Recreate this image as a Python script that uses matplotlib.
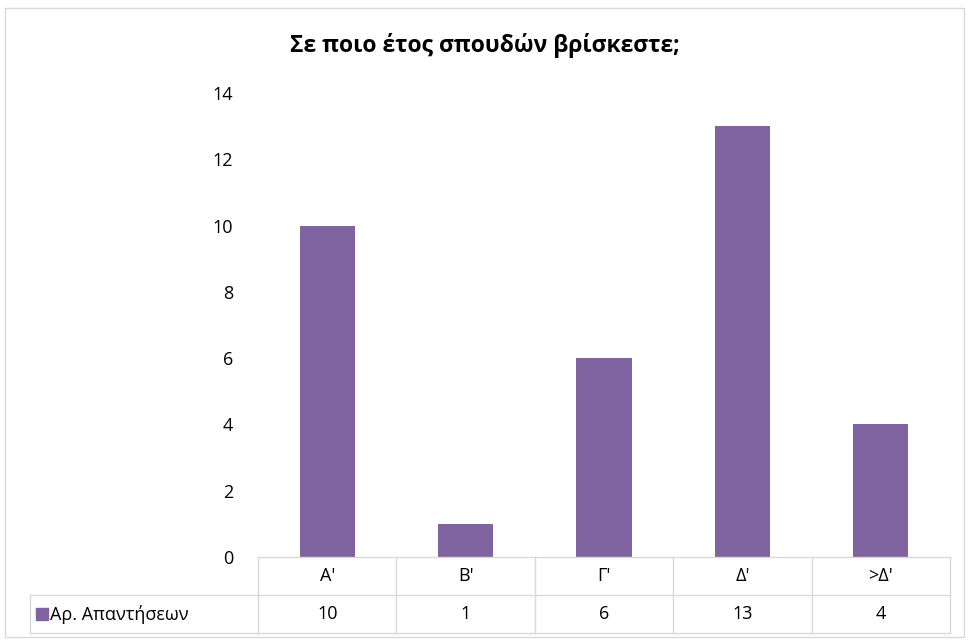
import matplotlib.pyplot as plt
from matplotlib.patches import Rectangle
import matplotlib.transforms as mtransforms

plt.rcParams['font.family'] = ['Open Sans', 'DejaVu Sans']

# data
categories = ["A'", "B'", "Γ'", "Δ'", ">Δ'"]
values = [10, 1, 6, 13, 4]
series_name = "Αρ. Απαντήσεων"
title = "Σε ποιο έτος σπουδών βρίσκεστε;"

bar_color = '#8064A2'
line_color = '#D9D9D9'

W, H = 969, 643
fig = plt.figure(figsize=(W / 100, H / 100), dpi=100)

# chart border
fig.patches.append(Rectangle((5 / W, 1 - 637 / H), 959 / W, 629 / H,
                             transform=fig.transFigure, fill=False,
                             edgecolor=line_color, linewidth=1))

ax = fig.add_axes([258 / W, 1 - 557 / H, 692 / W, 464 / H])
x = range(len(categories))
ax.bar(x, values, width=0.4, color=bar_color, zorder=2)
ax.set_xlim(-0.5, len(categories) - 0.5)
ax.set_ylim(0, 14)
ax.set_yticks(range(0, 15, 2))
ax.set_xticks([])
for s in ax.spines.values():
    s.set_visible(False)
ax.tick_params(axis='y', length=0, labelsize=13, pad=18, colors='#000000')

fig.text(0.5, 1 - 45 / H, title, ha='center', va='center',
         fontsize=16.5, fontweight='bold')

# data table under the axis
trans = mtransforms.blended_transform_factory(ax.transData, fig.transFigure)
y_top = 1 - 557 / H
y_mid = 1 - 595 / H
y_bot = 1 - 633 / H
x_left = -0.5
x_right = len(categories) - 0.5
x_leg = x_left - 228 / 138.4

kw = dict(color=line_color, linewidth=1, transform=trans, clip_on=False)
ax.plot([x_left, x_right], [y_top, y_top], **kw)
ax.plot([x_leg, x_right], [y_mid, y_mid], **kw)
ax.plot([x_leg, x_right], [y_bot, y_bot], **kw)
ax.plot([x_leg, x_leg], [y_mid, y_bot], **kw)
for i in range(len(categories) + 1):
    xv = x_left + i
    ax.plot([xv, xv], [y_top, y_bot], **kw)

for i, (c, v) in enumerate(zip(categories, values)):
    ax.text(i, (y_top + y_mid) / 2, c, transform=trans, ha='center',
            va='center', fontsize=13)
    ax.text(i, (y_mid + y_bot) / 2, str(v), transform=trans, ha='center',
            va='center', fontsize=13)

# legend key in the table
ax.add_patch(Rectangle((x_leg + 6 / 138.4, (y_mid + y_bot) / 2 - 6 / H),
                       12 / 138.4, 12 / H, transform=trans,
                       color=bar_color, clip_on=False))
ax.text(x_leg + 20 / 138.4, (y_mid + y_bot) / 2, series_name, transform=trans,
        ha='left', va='center', fontsize=13)

fig.savefig('out.png', dpi=100)
